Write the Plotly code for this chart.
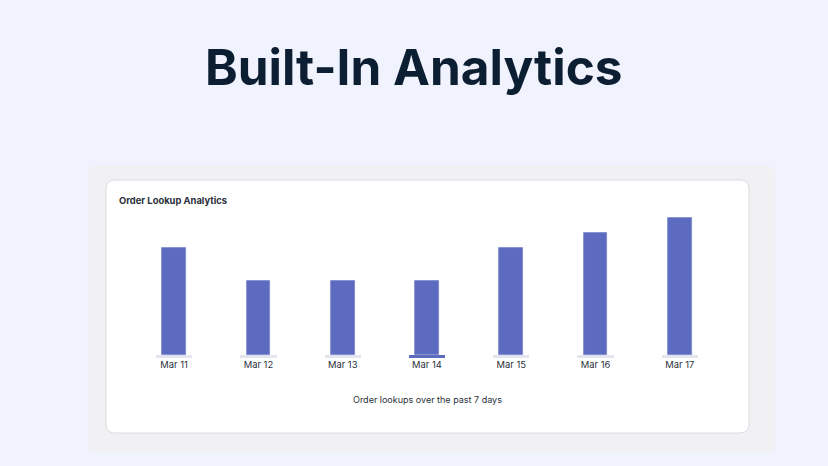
import plotly.graph_objects as go

# ---- data ----
dates = ["Mar 11", "Mar 12", "Mar 13", "Mar 14", "Mar 15", "Mar 16", "Mar 17"]
lookups = [7, 4.85, 4.85, 4.85, 7, 8, 9]
base_colors = ["#e4e5ee", "#e4e5ee", "#e4e5ee", "#5c6bc0", "#e4e5ee", "#e4e5ee", "#e4e5ee"]
base_thickness = [0.22] * 7

W, H = 828, 466
L, R, T, B = 132, 106, 200, 108
PW, PH = W - L - R, H - T - B

def px(x):
    return (x - L) / PW

def py(y):
    return 1 - (y - T) / PH

def rrect(x0, y0, x1, y1, r):
    X0, X1 = px(x0), px(x1)
    Y0, Y1 = py(y0), py(y1)
    rx = r / PW
    ry = r / PH
    return (f"M{X0+rx},{Y0} L{X1-rx},{Y0} Q{X1},{Y0} {X1},{Y0-ry} "
            f"L{X1},{Y1+ry} Q{X1},{Y1} {X1-rx},{Y1} L{X0+rx},{Y1} "
            f"Q{X0},{Y1} {X0},{Y1+ry} L{X0},{Y0-ry} Q{X0},{Y0} {X0+rx},{Y0} Z")

fig = go.Figure()
fig.add_trace(go.Bar(
    x=dates, y=base_thickness, base=[-t for t in base_thickness],
    marker=dict(color=base_colors, line=dict(width=0)), width=0.43,
    hoverinfo="skip", showlegend=False,
))
fig.add_trace(go.Bar(
    x=dates, y=lookups,
    marker=dict(color="#5c6bc0", line=dict(color="#7b87cc", width=0.8)), width=0.28,
    showlegend=False,
))

shapes = [
    dict(type="path", xref="paper", yref="paper", path=rrect(88, 166, 775, 452, 8),
         fillcolor="#f1f1f3", line=dict(width=0), layer="below"),
    dict(type="path", xref="paper", yref="paper", path=rrect(106, 180, 749, 433, 9),
         fillcolor="#ffffff", line=dict(color="#dcdce2", width=1), layer="below"),
]

annotations = [
    dict(text="<b>Built-In Analytics</b>", xref="paper", yref="paper",
         x=px(413.5), y=py(67), xanchor="center", yanchor="middle", showarrow=False,
         font=dict(family="Inter", size=49.5, color="#0c1e32")),
    dict(text="<b>Order Lookup Analytics</b>", xref="paper", yref="paper",
         x=px(117), y=py(200), xanchor="left", yanchor="middle", showarrow=False,
         font=dict(family="Inter", size=9.4, color="#2a2f3a")),
    dict(text="Order lookups over the past 7 days", xref="paper", yref="paper",
         x=px(427), y=py(399), xanchor="center", yanchor="middle", showarrow=False,
         font=dict(family="Inter", size=9, color="#2a2f3a")),
]

fig.update_layout(
    width=W, height=H,
    margin=dict(l=L, r=R, t=T, b=B),
    paper_bgcolor="#f0f2fe",
    plot_bgcolor="rgba(0,0,0,0)",
    barmode="overlay",
    bargap=0,
    shapes=shapes,
    annotations=annotations,
    xaxis=dict(showgrid=False, zeroline=False, showline=False, ticks="",
               tickfont=dict(family="Inter", size=9.4, color="#2a2f3a")),
    yaxis=dict(range=[-0.23, 10.16], visible=False, showgrid=False, zeroline=False),
)

fig.write_html("out.html")
